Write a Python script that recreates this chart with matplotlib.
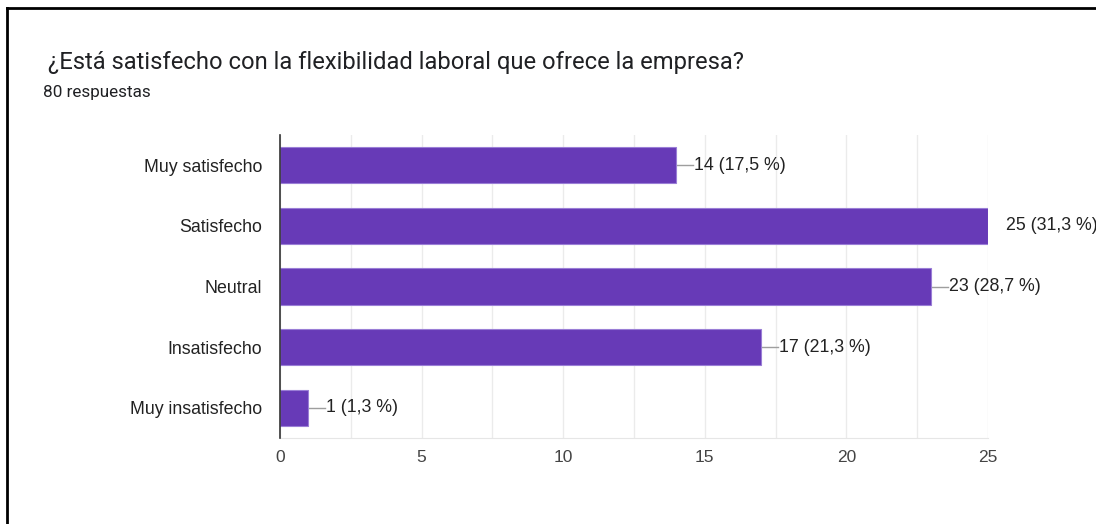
import matplotlib.pyplot as plt
from matplotlib.lines import Line2D

# Survey answers
categories = ['Muy satisfecho', 'Satisfecho', 'Neutral', 'Insatisfecho', 'Muy insatisfecho']
counts = [14, 25, 23, 17, 1]
percents = ['17,5', '31,3', '28,7', '21,3', '1,3']
total = 80

title = '¿Está satisfecho con la flexibilidad laboral que ofrece la empresa?'
bar_color = '#673ab7'

fig = plt.figure(figsize=(10.96, 5.24), dpi=100)
ax = fig.add_axes([280 / 1096, 1 - 438 / 524, 708 / 1096, 303 / 524])

y = range(len(categories))
ax.barh(y, counts, height=0.6, color=bar_color, edgecolor='#9a7ed6', linewidth=0.8, zorder=3)

ax.set_xlim(0, 25)
ax.set_ylim(len(categories) - 0.5, -0.5)
ax.set_xticks([0, 5, 10, 15, 20, 25])
ax.set_xticks([2.5, 7.5, 12.5, 17.5, 22.5], minor=True)
ax.grid(axis='x', which='both', color='#ebebeb', linewidth=1, zorder=0)
ax.set_yticks(list(y))
ax.set_yticklabels(categories, family='Liberation Sans', fontsize=12.8, color='#222222')
ax.tick_params(axis='y', length=0, pad=13)
ax.tick_params(axis='x', which='both', length=0, pad=9, labelsize=12.5, labelcolor='#444444')
for lbl in ax.get_xticklabels():
    lbl.set_family('Liberation Sans')

for side in ['top', 'right']:
    ax.spines[side].set_visible(False)
ax.spines['bottom'].set_color('#e6e6e6')
ax.spines['left'].set_color('#333333')
ax.spines['left'].set_linewidth(1.2)
ax.spines['left'].set_zorder(4)

# value labels with a short leader line
px = 25 / 708
for i, (c, p) in enumerate(zip(counts, percents)):
    ax.plot([c, c + 17 * px], [i, i], color='#9e9e9e', linewidth=1, zorder=2, clip_on=True)
    ax.text(c + 17.5 * px, i, f'{c} ({p} %)', va='center', ha='left',
            family='Liberation Sans', fontsize=12.8, color='#222222', clip_on=False)

fig.text(48 / 1096, 1 - 62 / 524, title, family='Roboto', fontsize=17.1,
         color='#202124', va='center', ha='left')
fig.text(43 / 1096, 1 - 93 / 524, f'{total} respuestas', family='Roboto', fontsize=12.3,
         color='#202124', va='center', ha='left')

# frame around the card
fig.add_artist(Line2D([7 / 1096, 1], [1 - 8 / 524, 1 - 8 / 524], color='black', linewidth=2))
fig.add_artist(Line2D([7 / 1096, 7 / 1096], [0, 1 - 8 / 524], color='black', linewidth=2))

fig.savefig('out.png', dpi=100)
